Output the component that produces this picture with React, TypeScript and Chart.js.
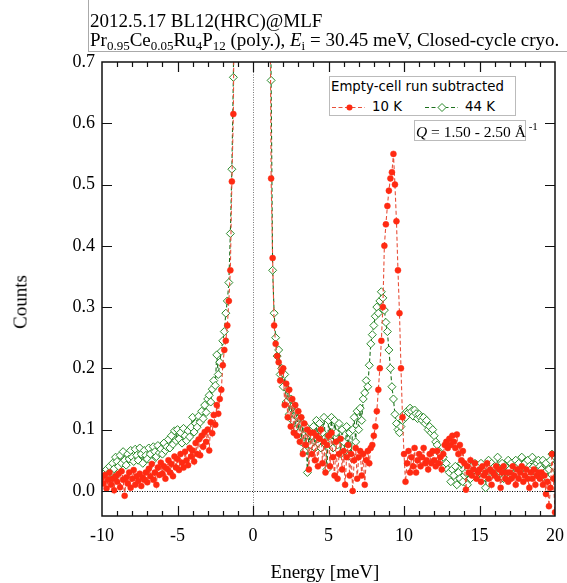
import { useEffect, useRef } from "react";
import { Chart, registerables } from "chart.js";

Chart.register(...registerables);

// Energy grid (meV): first point and spacing of the sampled data
const E_START = -10;
const E_STEP = 0.1;

// 10 K, empty-cell run subtracted (counts), E = -10.0 ... 20.0 meV
const RED_10K = [
  0.022, 0.012, 0.026, 0.004, 0.018, 0.030, 0.010, 0.020, 0.001, 0.024,
  0.015, 0.028, 0.006, 0.032, 0.018, -0.008, 0.022, 0.012, 0.030, 0.005,
  0.020, 0.034, 0.010, 0.024, 0.016, 0.028, 0.008, 0.022, 0.018, 0.030,
  0.014, 0.036, 0.024, 0.044, 0.018, 0.030, 0.010, 0.038, 0.026, 0.046,
  0.028, 0.040, 0.020, 0.036, 0.050, 0.030, 0.044, 0.024, 0.056, 0.038,
  0.052, 0.034, 0.060, 0.046, 0.038, 0.064, 0.050, 0.042, 0.070, 0.056,
  0.066, 0.048, 0.078, 0.060, 0.084, 0.058, 0.090, 0.072, 0.096, 0.080,
  0.100, 0.066, 0.112, 0.094, 0.124, 0.108, 0.140, 0.126, 0.150, 0.165,
  0.205, 0.230, 0.245, 0.270, 0.310, 0.360, 0.505, 0.615, 1.000, 1.600,
  2.2, 2.9, 3.6, 4.4, 5.2, 6.0, 6.8, 7.5, 8.1, 8.6,
  9.0, 8.6, 8.0, 7.2, 6.3, 5.4, 4.5, 3.6, 2.8, 2.1,
  1.5, 0.95, 0.51, 0.38, 0.27, 0.24, 0.22, 0.21, 0.18, 0.195,
  0.20, 0.14, 0.175, 0.12, 0.165, 0.105, 0.15, 0.095, 0.14, 0.09,
  0.13, 0.08, 0.12, 0.06, 0.11, 0.075, 0.10, 0.035, 0.095, 0.06,
  0.095, 0.05, 0.09, 0.04, 0.085, 0.10, 0.045, 0.08, 0.03, 0.075,
  0.09, 0.04, 0.095, 0.055, 0.025, 0.08, 0.02, 0.06, 0.085, 0.035,
  0.065, 0.01, 0.055, 0.075, 0.025, 0.06, 0.0, 0.05, 0.07, 0.02,
  0.055, 0.065, 0.025, 0.06, 0.01, 0.05, 0.065, 0.045, 0.07, 0.075,
  0.09, 0.105, 0.13, 0.165, 0.20, 0.245, 0.30, 0.40, 0.435, 0.465,
  0.49, 0.51, 0.52, 0.55, 0.50, 0.44, 0.36, 0.29, 0.20, 0.12,
  0.06, 0.015, 0.045, 0.065, 0.03, 0.055, 0.04, 0.07, 0.03, 0.05,
  0.06, 0.04, 0.055, 0.07, 0.045, 0.05, 0.035, 0.06, 0.045, 0.065,
  0.05, 0.04, 0.065, 0.045, 0.055, 0.035, 0.06, 0.075, 0.08, 0.07,
  0.085, 0.075, 0.09, 0.08, 0.07, 0.092, 0.06, 0.075, 0.05, 0.065,
  0.045, 0.002, 0.04, 0.03, 0.05, 0.025, 0.035, 0.045, 0.02, 0.03,
  0.035, 0.015, 0.04, 0.025, 0.03, 0.045, 0.02, 0.035, 0.01, 0.03,
  0.025, 0.04, 0.02, 0.035, 0.005, 0.03, 0.04, 0.02, 0.03, 0.015,
  0.03, 0.02, 0.04, 0.025, 0.01, 0.035, 0.02, 0.03, 0.04, 0.015,
  0.025, 0.035, 0.02, 0.005, 0.03, 0.02, 0.035, 0.01, 0.025, 0.03,
  0.02, 0.03, 0.01, 0.025, -0.005, 0.015, -0.025, 0.005, 0.06, 0.02,
  -0.035,
];

// 44 K, empty-cell run subtracted (counts), E = -10.0 ... 20.0 meV
const GREEN_44K = [
  0.025, 0.018, 0.030, 0.035, 0.028, 0.040, 0.030, 0.045, 0.036, 0.055,
  0.048, 0.040, 0.058, 0.045, 0.064, 0.050, 0.042, 0.060, 0.052, 0.066,
  0.055, 0.048, 0.068, 0.058, 0.050, 0.070, 0.060, 0.045, 0.066, 0.058,
  0.052, 0.070, 0.060, 0.048, 0.072, 0.064, 0.056, 0.074, 0.062, 0.068,
  0.060, 0.078, 0.066, 0.072, 0.084, 0.070, 0.090, 0.076, 0.098, 0.082,
  0.100, 0.085, 0.095, 0.078, 0.102, 0.090, 0.082, 0.098, 0.088, 0.104,
  0.120, 0.096, 0.110, 0.104, 0.122, 0.112, 0.130, 0.118, 0.140, 0.128,
  0.150, 0.156, 0.145, 0.166, 0.180, 0.172, 0.222, 0.190, 0.210, 0.228,
  0.245, 0.260, 0.290, 0.310, 0.340, 0.420, 0.525, 0.675, 1.000, 1.500,
  2.1, 2.8, 3.5, 4.3, 5.1, 5.9, 6.7, 7.4, 8.0, 8.5,
  8.9, 8.5, 7.9, 7.1, 6.2, 5.3, 4.4, 3.5, 2.7, 2.0,
  1.6, 1.0, 0.67, 0.36, 0.29, 0.25, 0.22, 0.23, 0.19, 0.20,
  0.17, 0.19, 0.145, 0.165, 0.125, 0.15, 0.115, 0.14, 0.10, 0.13,
  0.095, 0.12, 0.08, 0.11, 0.065, 0.105, 0.03, 0.095, 0.075, 0.09,
  0.105, 0.07, 0.115, 0.085, 0.11, 0.07, 0.095, 0.12, 0.08, 0.035,
  0.115, 0.09, 0.12, 0.07, 0.115, 0.095, 0.075, 0.11, 0.06, 0.10,
  0.08, 0.065, 0.105, 0.07, 0.095, 0.055, 0.10, 0.12, 0.08, 0.13,
  0.10, 0.135, 0.115, 0.15, 0.16, 0.18, 0.17, 0.205, 0.24, 0.255,
  0.27, 0.285, 0.30, 0.29, 0.31, 0.325, 0.315, 0.295, 0.275, 0.26,
  0.23, 0.20, 0.17, 0.15, 0.125, 0.11, 0.10, 0.095, 0.105, 0.115,
  0.125, 0.12, 0.13, 0.128, 0.135, 0.13, 0.122, 0.132, 0.126, 0.118,
  0.125, 0.12, 0.115, 0.12, 0.11, 0.115, 0.10, 0.105, 0.095, 0.10,
  0.09, 0.08, 0.075, 0.065, 0.06, 0.05, 0.055, 0.04, 0.045, 0.035,
  0.03, 0.015, 0.035, 0.025, 0.04, 0.01, 0.03, 0.02, 0.045, 0.015,
  0.025, 0.03, 0.01, 0.035, 0.02, 0.04, 0.03, 0.045, 0.025, 0.04,
  0.03, 0.045, 0.02, 0.035, 0.005, 0.04, 0.05, 0.03, 0.045, 0.035,
  0.04, 0.025, 0.055, 0.035, 0.03, 0.045, 0.02, 0.04, 0.03, 0.05,
  0.035, 0.045, 0.025, 0.04, 0.05, 0.03, 0.045, 0.035, 0.055, 0.04,
  0.045, 0.03, 0.05, 0.04, 0.035, 0.055, 0.04, 0.03, 0.045, 0.05,
  0.04, 0.035, 0.05, 0.03, 0.045, 0.02, 0.035, 0.05, 0.06, 0.04,
  0.02,
];

const X_TICKS = [-10, -5, 0, 5, 10, 15, 20];
const Y_TICKS = [0, 0.1, 0.2, 0.3, 0.4, 0.5, 0.6, 0.7];
const X_MIN = -10;
const X_MAX = 20;
const Y_MIN = -0.041;
const Y_MAX = 0.7;

const RED = "#ff2a12";
const RED_LINE = "#e8503a";
const GREEN = "#2a8a2a";
const GREEN_LINE = "#1c701c";

const toPoints = (vals: number[]) =>
  vals.map((v, i) => ({ x: +(E_START + i * E_STEP).toFixed(2), y: v }));

const framePlugin = {
  id: "framePlugin",
  beforeDatasetsDraw(chart: any) {
    const { ctx, chartArea: a, scales } = chart;
    const x0 = scales.x.getPixelForValue(0);
    const y0 = scales.y.getPixelForValue(0);
    ctx.save();
    ctx.lineWidth = 1;
    ctx.setLineDash([1, 1.5]);
    ctx.strokeStyle = "#777";
    ctx.beginPath();
    ctx.moveTo(Math.round(x0) + 0.5, a.top);
    ctx.lineTo(Math.round(x0) + 0.5, a.bottom);
    ctx.stroke();
    ctx.strokeStyle = "#000";
    ctx.beginPath();
    ctx.moveTo(a.left, Math.round(y0) + 0.5);
    ctx.lineTo(a.right, Math.round(y0) + 0.5);
    ctx.stroke();
    ctx.restore();
  },
  afterDatasetsDraw(chart: any) {
    const { ctx, chartArea: a, scales } = chart;
    ctx.save();
    ctx.strokeStyle = "#111";
    ctx.lineWidth = 1.5;
    ctx.setLineDash([]);
    ctx.strokeRect(a.left, a.top, a.right - a.left, a.bottom - a.top);
    ctx.lineWidth = 1.2;
    ctx.beginPath();
    for (let e = X_MIN + 1; e < X_MAX; e += 1) {
      const px = Math.round(scales.x.getPixelForValue(e)) + 0.5;
      const len = e % 5 === 0 ? 10 : 5;
      ctx.moveTo(px, a.bottom);
      ctx.lineTo(px, a.bottom - len);
      ctx.moveTo(px, a.top);
      ctx.lineTo(px, a.top + len);
    }
    for (const v of Y_TICKS) {
      if (v >= Y_MAX) continue;
      const py = Math.round(scales.y.getPixelForValue(v)) + 0.5;
      ctx.moveTo(a.left, py);
      ctx.lineTo(a.left + 10, py);
      ctx.moveTo(a.right, py);
      ctx.lineTo(a.right - 10, py);
    }
    ctx.stroke();
    ctx.restore();
  },
};

export default function App() {
  const ref = useRef<HTMLCanvasElement | null>(null);

  useEffect(() => {
    if (!ref.current) return;
    const chart = new Chart(ref.current, {
      type: "line",
      data: {
        datasets: [
          {
            label: "10 K",
            data: toPoints(RED_10K),
            borderColor: RED_LINE,
            borderWidth: 1.1,
            borderDash: [4, 2.5],
            pointStyle: "circle",
            pointRadius: 3,
            pointBackgroundColor: RED,
            pointBorderColor: RED,
            pointBorderWidth: 0.5,
            tension: 0,
          },
          {
            label: "44 K",
            data: toPoints(GREEN_44K),
            borderColor: GREEN_LINE,
            borderWidth: 1.1,
            borderDash: [4, 2.5],
            pointStyle: "rectRot",
            pointRadius: 4,
            pointBackgroundColor: "#ffffff",
            pointBorderColor: GREEN,
            pointBorderWidth: 1,
            tension: 0,
          },
        ],
      },
      options: {
        responsive: false,
        maintainAspectRatio: false,
        animation: false,
        layout: { padding: { top: 62, right: 12, left: 0, bottom: 0 } },
        plugins: { legend: { display: false }, tooltip: { enabled: false } },
        scales: {
          x: {
            type: "linear",
            min: X_MIN,
            max: X_MAX,
            grid: { display: false, drawTicks: false },
            border: { display: false },
            afterBuildTicks: (s: any) => {
              s.ticks = X_TICKS.map((v) => ({ value: v }));
            },
            afterFit: (s: any) => {
              s.height = 67;
              s.paddingLeft = 0;
              s.paddingRight = 0;
            },
            ticks: {
              autoSkip: false,
              maxRotation: 0,
              padding: 9,
              color: "#000",
              font: { family: "'Liberation Serif', serif", size: 18 },
              callback: (v: any) => String(v),
            },
          },
          y: {
            type: "linear",
            min: Y_MIN,
            max: Y_MAX,
            grid: { display: false, drawTicks: false },
            border: { display: false },
            afterBuildTicks: (s: any) => {
              s.ticks = Y_TICKS.map((v) => ({ value: v }));
            },
            afterFit: (s: any) => {
              s.width = 102;
              s.paddingTop = 0;
              s.paddingBottom = 0;
            },
            ticks: {
              autoSkip: false,
              padding: 7,
              color: "#000",
              font: { family: "'Liberation Serif', serif", size: 18 },
              callback: (v: any) => Number(v).toFixed(1),
            },
          },
        },
      },
      plugins: [framePlugin],
    } as any);
    return () => chart.destroy();
  }, []);

  const serif = "'Liberation Serif', 'Times New Roman', serif";
  const sans = "'DejaVu Sans', sans-serif";
  const sub = { fontSize: 13, position: "relative" as const, top: 4 };

  return (
    <div
      style={{
        position: "absolute",
        left: 0,
        top: 0,
        width: 567,
        height: 583,
        background: "#fff",
        overflow: "hidden",
      }}
    >
      <canvas
        ref={ref}
        width={567}
        height={583}
        style={{ position: "absolute", left: 0, top: 0 }}
      />
      {/* header box */}
      <div
        style={{
          position: "absolute",
          left: 88,
          top: -1,
          width: 490,
          height: 53,
          border: "1px solid #aaa",
          boxSizing: "border-box",
          fontFamily: serif,
          fontSize: 19,
          lineHeight: "19px",
          whiteSpace: "nowrap",
          color: "#000",
        }}
      >
        <div style={{ position: "absolute", left: 1, top: 11 }}>
          2012.5.17 BL12(HRC)@MLF
        </div>
        <div style={{ position: "absolute", left: 1, top: 30 }}>
          Pr<span style={sub}>0.95</span>Ce<span style={sub}>0.05</span>Ru
          <span style={sub}>4</span>P<span style={sub}>12</span> (poly.),{" "}
          <i>E</i>
          <span style={sub}>i</span> = 30.45 meV, Closed-cycle cryo.
        </div>
      </div>
      {/* legend */}
      <div
        style={{
          position: "absolute",
          left: 329,
          top: 76,
          width: 187,
          height: 40,
          border: "1px solid #bbb",
          boxSizing: "border-box",
          background: "#fff",
          fontFamily: sans,
          fontSize: 13.3,
          lineHeight: "16px",
          color: "#000",
          whiteSpace: "nowrap",
        }}
      >
        <div style={{ position: "absolute", left: 1, top: 2 }}>
          Empty-cell run subtracted
        </div>
        <svg
          width={187}
          height={40}
          style={{ position: "absolute", left: -1, top: -1 }}
        >
          <line
            x1={3}
            y1={31.5}
            x2={36}
            y2={31.5}
            stroke={RED_LINE}
            strokeWidth={1.1}
            strokeDasharray="4 2.5"
          />
          <circle cx={20.5} cy={31.5} r={3} fill={RED} />
          <line
            x1={96}
            y1={31.5}
            x2={129}
            y2={31.5}
            stroke={GREEN_LINE}
            strokeWidth={1.1}
            strokeDasharray="4 2.5"
          />
          <polygon
            points="113,27.5 117,31.5 113,35.5 109,31.5"
            fill="#fff"
            stroke={GREEN}
            strokeWidth={1}
          />
        </svg>
        <div style={{ position: "absolute", left: 42, top: 22 }}>10 K</div>
        <div style={{ position: "absolute", left: 135, top: 22 }}>44 K</div>
      </div>
      {/* Q range box */}
      <div
        style={{
          position: "absolute",
          left: 414,
          top: 120,
          width: 112,
          height: 21,
          border: "1px solid #bbb",
          boxSizing: "border-box",
          background: "#fff",
          fontFamily: serif,
          fontSize: 15.5,
          lineHeight: "18px",
          whiteSpace: "nowrap",
          color: "#000",
        }}
      >
        <div style={{ position: "absolute", left: 1, top: 2 }}>
          <i>Q</i> = 1.50 - 2.50 Å
          <span style={{ fontSize: 11, position: "relative", top: -7 }}>
            {" "}
            -1
          </span>
        </div>
      </div>
      {/* axis titles */}
      <div
        style={{
          position: "absolute",
          left: 20,
          top: 302,
          transform: "translate(-50%, -50%) rotate(-90deg)",
          fontFamily: serif,
          fontSize: 19,
          lineHeight: "19px",
          whiteSpace: "nowrap",
          color: "#000",
        }}
      >
        Counts
      </div>
      <div
        style={{
          position: "absolute",
          left: 325,
          top: 571,
          transform: "translate(-50%, -50%)",
          fontFamily: serif,
          fontSize: 19,
          lineHeight: "19px",
          whiteSpace: "nowrap",
          color: "#000",
        }}
      >
        Energy [meV]
      </div>
    </div>
  );
}
